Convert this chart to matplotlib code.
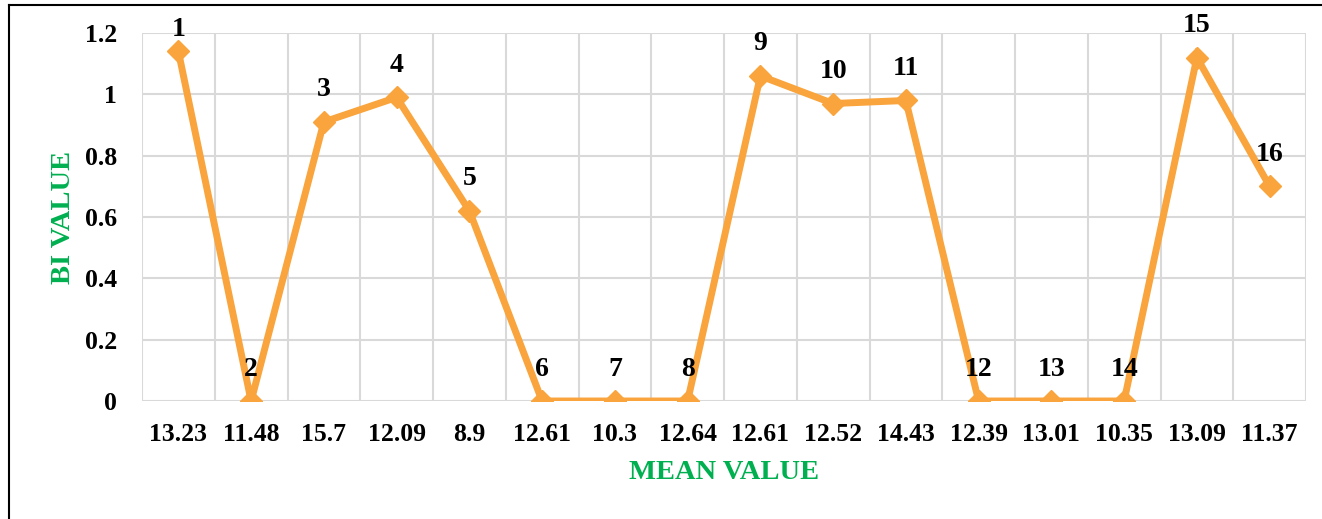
import numpy as np
import matplotlib.pyplot as plt
from matplotlib.lines import Line2D

# valeurs
mean_labels = ['13.23', '11.48', '15.7', '12.09', '8.9', '12.61', '10.3', '12.64',
               '12.61', '12.52', '14.43', '12.39', '13.01', '10.35', '13.09', '11.37']
bi_values = [1.14, 0, 0.91, 0.99, 0.62, 0, 0, 0, 1.06, 0.97, 0.98, 0, 0, 0, 1.12, 0.70]
point_ids = [str(i) for i in range(1, 17)]

plt.rcParams['font.family'] = ['Liberation Serif', 'DejaVu Serif']
plt.rcParams['font.weight'] = 'bold'

fig = plt.figure(figsize=(13.22, 5.19), dpi=100)
ax = fig.add_axes([142/1322, 1-401/519, (1306-142)/1322, (401-33)/519])

x = np.arange(len(bi_values))
orange = '#F9A43C'
ax.plot(x, bi_values, color=orange, lw=5, marker='D', ms=11, mfc=orange, mec=orange,
        solid_joinstyle='miter', zorder=3)

for i, (xi, yi) in enumerate(zip(x, bi_values)):
    off = 16 if i == 0 else 23
    ax.annotate(point_ids[i], (xi, yi), xytext=(0, off), textcoords='offset points',
                ha='center', va='center', fontsize=20, fontweight='bold', color='black')

ax.set_xlim(-0.5, len(bi_values) - 0.5)
ax.set_ylim(0, 1.2)
ax.set_xticks(x)
ax.set_xticklabels(mean_labels)
ax.set_yticks([0, 0.2, 0.4, 0.6, 0.8, 1, 1.2])
ax.set_yticklabels(['0', '0.2', '0.4', '0.6', '0.8', '1', '1.2'])
ax.set_xticks(np.arange(-0.5, len(bi_values)), minor=True)
ax.tick_params(axis='both', which='both', length=0, labelsize=18.5)
ax.tick_params(axis='x', pad=16)
ax.tick_params(axis='y', pad=18)
ax.grid(True, which='major', axis='y', color='#D9D9D9', lw=1.5)
ax.grid(True, which='minor', axis='x', color='#D9D9D9', lw=1.5)
for s in ax.spines.values():
    s.set_visible(False)

ax.set_xlabel('MEAN VALUE', color='#00B050', fontsize=20.5, fontweight='bold', labelpad=10)
ax.set_ylabel('BI VALUE', color='#00B050', fontsize=20.5, fontweight='bold', labelpad=6)

# cadre autour du graphique
fig.add_artist(Line2D([9/1322, 9/1322], [0, 1-5/519], color='black', lw=1.5))
fig.add_artist(Line2D([9/1322, 1], [1-5/519, 1-5/519], color='black', lw=1.5))

fig.savefig('out.png', dpi=100)
